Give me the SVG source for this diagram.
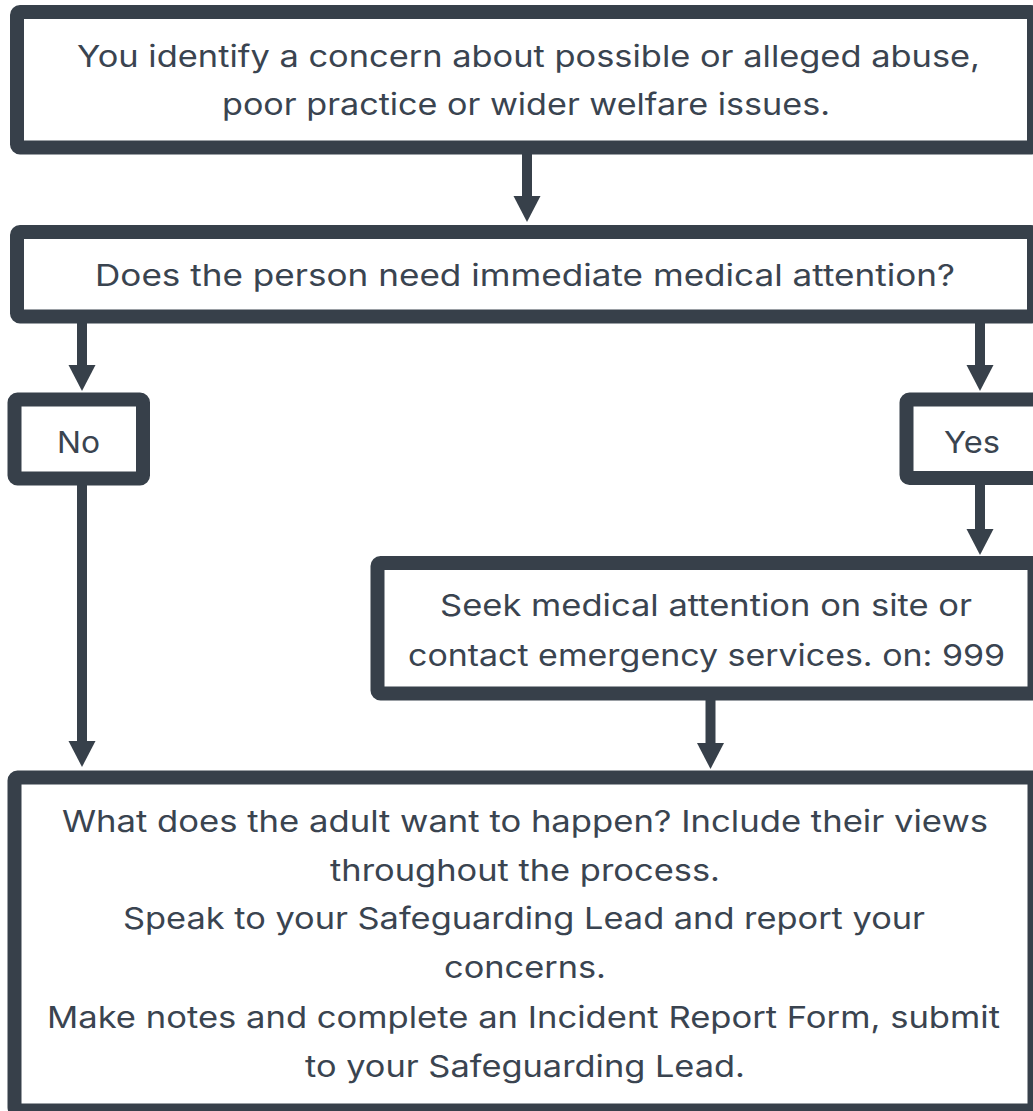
<svg xmlns="http://www.w3.org/2000/svg" width="1033" height="1111" viewBox="0 0 1033 1111">
<style>
.box{fill:#ffffff;stroke:#37404a;stroke-width:14;stroke-linejoin:round}
.t{font-family:Inter,"Open Sans","Liberation Sans",sans-serif;font-size:30px;fill:#3a4450;text-anchor:middle}
.c{stroke:#37404a;stroke-width:10;fill:none}
</style>
<defs>
<marker id="ah" markerUnits="userSpaceOnUse" markerWidth="27" markerHeight="28" refX="6" refY="13.5" orient="auto">
<path d="M0,0 L26,13.5 L0,27 Z" fill="#37404a"/>
</marker>
</defs>
<rect width="1033" height="1111" fill="#ffffff"/>
<g id="connectors">
<line class="c" x1="527" y1="150" x2="527" y2="202" marker-end="url(#ah)"/>
<line class="c" x1="82" y1="318" x2="82" y2="371" marker-end="url(#ah)"/>
<line class="c" x1="980" y1="318" x2="980" y2="371" marker-end="url(#ah)"/>
<line class="c" x1="980" y1="480" x2="980" y2="535" marker-end="url(#ah)"/>
<line class="c" x1="82" y1="480" x2="82" y2="747" marker-end="url(#ah)"/>
<line class="c" x1="710.5" y1="696" x2="710.5" y2="749" marker-end="url(#ah)"/>
</g>
<g id="concern">
<rect class="box" x="17" y="12" width="1017" height="135.5" rx="3"/>
<text class="t" x="528.5" y="67" textLength="903" lengthAdjust="spacingAndGlyphs">You identify a concern about possible or alleged abuse,</text>
<text class="t" x="526" y="115" textLength="608" lengthAdjust="spacingAndGlyphs">poor practice or wider welfare issues.</text>
</g>
<g id="medical">
<rect class="box" x="17" y="232" width="1017" height="84.5" rx="3"/>
<text class="t" x="525" y="286" textLength="860" lengthAdjust="spacingAndGlyphs">Does the person need immediate medical attention?</text>
</g>
<g id="no">
<rect class="box" x="14.5" y="399.5" width="128.5" height="79" rx="3"/>
<text class="t" x="78.5" y="453" textLength="43" lengthAdjust="spacingAndGlyphs">No</text>
</g>
<g id="yes">
<rect class="box" x="906.5" y="399.5" width="140" height="78.5" rx="3"/>
<text class="t" x="972" y="453" textLength="56" lengthAdjust="spacingAndGlyphs">Yes</text>
</g>
<g id="seek">
<rect class="box" x="377.5" y="563" width="657" height="130.5" rx="3"/>
<text class="t" x="706" y="616" textLength="532" lengthAdjust="spacingAndGlyphs">Seek medical attention on site or</text>
<text class="t" x="706.5" y="666" textLength="597" lengthAdjust="spacingAndGlyphs">contact emergency services. on: 999</text>
</g>
<g id="report">
<rect class="box" x="14.5" y="777.5" width="1020" height="333" rx="3"/>
<text class="t" x="525" y="832" textLength="926" lengthAdjust="spacingAndGlyphs">What does the adult want to happen? Include their views</text>
<text class="t" x="525" y="881" textLength="390" lengthAdjust="spacingAndGlyphs">throughout the process.</text>
<text class="t" x="524" y="929" textLength="802" lengthAdjust="spacingAndGlyphs">Speak to your Safeguarding Lead and report your</text>
<text class="t" x="525" y="978" textLength="162" lengthAdjust="spacingAndGlyphs">concerns.</text>
<text class="t" x="523.5" y="1028" textLength="953" lengthAdjust="spacingAndGlyphs">Make notes and complete an Incident Report Form, submit</text>
<text class="t" x="525" y="1077" textLength="440" lengthAdjust="spacingAndGlyphs">to your Safeguarding Lead.</text>
</g>
</svg>
